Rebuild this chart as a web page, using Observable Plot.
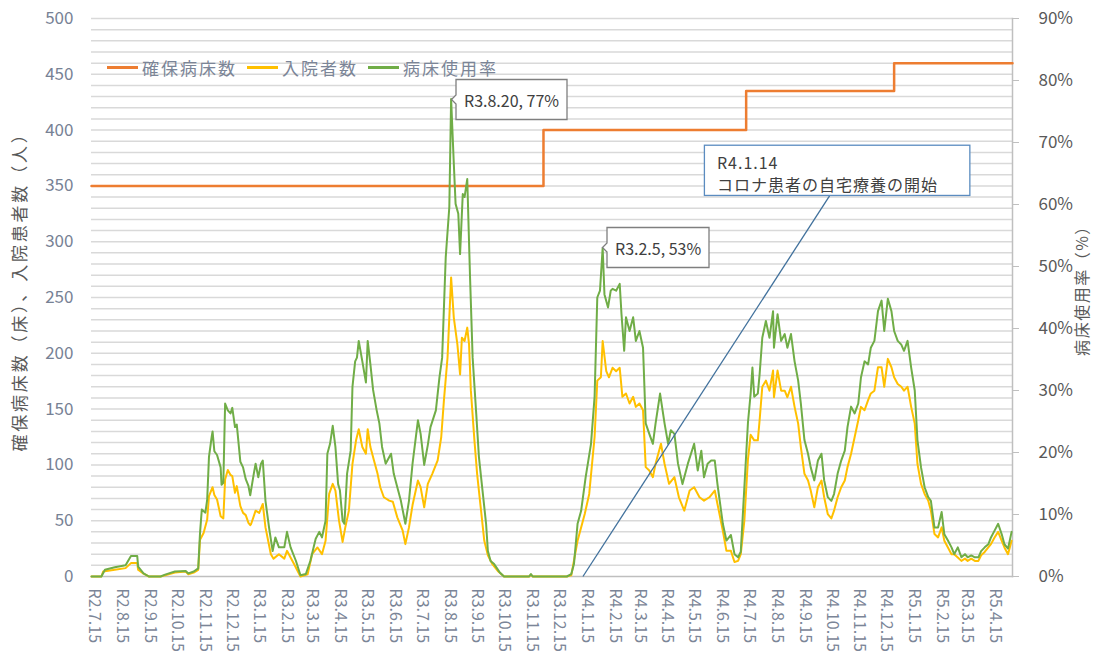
<!DOCTYPE html>
<html><head><meta charset="utf-8">
<script src="https://cdn.jsdelivr.net/npm/d3@7"></script>
<script src="https://cdn.jsdelivr.net/npm/@observablehq/plot@0.6"></script>
<style>
body{margin:0;background:#fff;}
#wrap{position:relative;width:1093px;height:663px;font-family:"Noto Sans CJK JP",sans-serif;}
#legend{position:absolute;left:107px;top:55px;display:flex;align-items:center;gap:10px;font-size:17px;letter-spacing:2px;color:#7b8597;white-space:nowrap;}
#legend .item{display:flex;align-items:center;}
#legend .sw{width:31px;height:3px;margin-right:4px;}
g[aria-label="tip"]{color:#404040;}
</style></head><body><div id="wrap"><div id="legend"></div></div>
<script>
// ---------- data ----------
const seriesNames = ["確保病床数", "入院者数", "病床使用率"];
const seriesColors = ["#ED7D31", "#FFC000", "#70AD47"];
const leftTitle = "確保病床数（床）、入院患者数（人）";
const rightTitle = "病床使用率（%）";

// secured beds (step changes)
const bedSteps = [
  ["2020-07-15", 350], ["2021-12-01", 400], ["2022-07-15", 435], ["2022-12-27", 460], ["2023-05-08", 460]
];

// inpatients (persons)
const inpatients = [
  ["2020-07-15",0],["2020-07-26",0],["2020-07-28",4.5],["2020-08-10",6],["2020-08-22",7.5],["2020-08-28",12],
  ["2020-09-04",12],["2020-09-05",6],["2020-09-11",2.5],["2020-09-17",0],["2020-09-30",0],["2020-10-05",1],
  ["2020-10-16",3.5],["2020-10-28",4.5],["2020-10-31",2],["2020-11-06",3.5],["2020-11-11",6],["2020-11-13",33],
  ["2020-11-17",39],["2020-11-21",51],["2020-11-23",72],["2020-11-27",80],["2020-11-29",73],["2020-12-02",69],
  ["2020-12-06",54],["2020-12-09",52],["2020-12-11",87],["2020-12-14",95.5],["2020-12-17",91],["2020-12-19",90],
  ["2020-12-22",75],["2020-12-24",81],["2020-12-28",63],["2020-12-31",57],["2021-01-03",55],["2021-01-06",48],
  ["2021-01-08",46],["2021-01-09",47],["2021-01-14",59],["2021-01-18",57],["2021-01-22",65],["2021-01-25",44],
  ["2021-01-31",20],["2021-02-03",16],["2021-02-09",20],["2021-02-15",16],["2021-02-18",23],["2021-02-26",11],
  ["2021-03-05",0],["2021-03-13",2],["2021-03-18",20],["2021-03-24",26],["2021-03-29",20],["2021-04-02",32],
  ["2021-04-06",74],["2021-04-10",83],["2021-04-13",77],["2021-04-17",50],["2021-04-21",31],["2021-04-24",44],
  ["2021-04-28",59],["2021-05-02",101],["2021-05-06",122],["2021-05-09",132],["2021-05-13",116],["2021-05-17",110],
  ["2021-05-19",132],["2021-05-22",116],["2021-05-26",104],["2021-05-30",92],["2021-06-02",80],["2021-06-06",71],
  ["2021-06-12",68],["2021-06-16",67],["2021-06-21",53],["2021-06-27",41],["2021-06-30",29],["2021-07-04",44],
  ["2021-07-08",64],["2021-07-14",86],["2021-07-17",80],["2021-07-21",62],["2021-07-25",83],["2021-07-30",92],
  ["2021-08-05",104],["2021-08-09",125],["2021-08-12",158],["2021-08-16",196],["2021-08-20",268],["2021-08-23",232],
  ["2021-08-27",208],["2021-08-30",181],["2021-09-01",214],["2021-09-04",211],["2021-09-07",223],["2021-09-09",208],
  ["2021-09-11",167],["2021-09-15",122],["2021-09-18",92],["2021-09-22",62],["2021-09-26",32],["2021-09-30",19],
  ["2021-10-05",11],["2021-10-11",5],["2021-10-18",0],["2021-11-15",0],["2021-11-17",1.5],["2021-11-19",0],
  ["2021-12-27",0],["2022-01-01",1],["2022-01-08",32],["2022-01-16",56],["2022-01-21",74],["2022-01-27",125],
  ["2022-01-30",175.5],["2022-02-03",178.5],["2022-02-05",211],["2022-02-09",184],["2022-02-12",178.5],["2022-02-16",187],
  ["2022-02-20",184],["2022-02-24",187],["2022-02-27",161],["2022-03-03",164],["2022-03-07",155],["2022-03-11",161],
  ["2022-03-14",152],["2022-03-18",155],["2022-03-22",149],["2022-03-25",98],["2022-03-29",95],["2022-04-02",89],
  ["2022-04-05",101],["2022-04-11",119],["2022-04-15",101],["2022-04-20",83],["2022-04-26",89],["2022-05-01",71],
  ["2022-05-07",59],["2022-05-13",77],["2022-05-18",80],["2022-05-24",71],["2022-05-29",68],["2022-06-04",71],
  ["2022-06-10",77],["2022-06-13",65],["2022-06-19",41],["2022-06-23",23],["2022-06-28",23],["2022-07-02",13],
  ["2022-07-06",14],["2022-07-09",20],["2022-07-13",50],["2022-07-17",105],["2022-07-20",127],["2022-07-24",122],
  ["2022-07-28",122],["2022-07-30",140],["2022-08-02",170],["2022-08-06",175.5],["2022-08-10",166.5],["2022-08-14",184.5],
  ["2022-08-15",160.6],["2022-08-19",184.5],["2022-08-23",166.5],["2022-08-27",166.5],["2022-08-30",160.6],["2022-09-03",170],
  ["2022-09-07",152],["2022-09-11",137],["2022-09-14",116],["2022-09-18",92],["2022-09-22",86],["2022-09-25",77],
  ["2022-09-29",62],["2022-10-03",80],["2022-10-07",86],["2022-10-10",71],["2022-10-14",56],["2022-10-18",52],
  ["2022-10-21",59],["2022-10-25",71],["2022-10-29",80],["2022-11-02",86],["2022-11-05",98],["2022-11-09",110],
  ["2022-11-13",125],["2022-11-17",140],["2022-11-20",152],["2022-11-24",149],["2022-11-28",158],["2022-12-01",164],
  ["2022-12-05",166.5],["2022-12-09",187.5],["2022-12-13",187.5],["2022-12-16",170],["2022-12-20",195],["2022-12-24",187.5],
  ["2022-12-27",178.5],["2022-12-31",172.5],["2023-01-04",170],["2023-01-07",166.5],["2023-01-11",170],["2023-01-15",152],
  ["2023-01-19",137],["2023-01-22",101],["2023-01-26",83],["2023-01-30",74],["2023-02-03",68],["2023-02-06",59],
  ["2023-02-10",38],["2023-02-14",35],["2023-02-18",44],["2023-02-21",32],["2023-02-25",26],["2023-03-01",20],
  ["2023-03-04",20],["2023-03-08",17],["2023-03-12",14],["2023-03-16",16],["2023-03-19",14],["2023-03-23",16],
  ["2023-03-27",14],["2023-03-31",14],["2023-04-03",19],["2023-04-07",22],["2023-04-11",26],["2023-04-14",29],
  ["2023-04-18",35],["2023-04-22",40],["2023-04-26",32],["2023-04-29",26],["2023-05-03",20],["2023-05-07",32]
];

// bed occupancy rate (%), right axis
const occupancyRate = [
  ["2020-07-15",0],["2020-07-26",0],["2020-07-30",1.1],["2020-08-10",1.5],["2020-08-22",1.8],["2020-08-28",3.3],
  ["2020-09-04",3.3],["2020-09-05",1.6],["2020-09-11",0.5],["2020-09-17",0],["2020-09-30",0],["2020-10-05",0.3],
  ["2020-10-16",0.8],["2020-10-28",0.9],["2020-10-31",0.5],["2020-11-06",0.8],["2020-11-11",1.3],["2020-11-13",7.0],
  ["2020-11-15",10.8],["2020-11-19",10.3],["2020-11-21",12.4],["2020-11-23",19.3],["2020-11-26",22.5],["2020-11-27",23.4],
  ["2020-11-29",20.2],["2020-12-02",19.6],["2020-12-06",17.6],["2020-12-07",14.8],["2020-12-09",15.1],["2020-12-11",27.9],
  ["2020-12-14",26.8],["2020-12-17",26.3],["2020-12-19",27.2],["2020-12-22",24.1],["2020-12-24",24.5],["2020-12-28",18.5],
  ["2020-12-31",17.6],["2021-01-03",15.7],["2021-01-06",14.6],["2021-01-08",13.1],["2021-01-12",16.6],["2021-01-14",18.2],
  ["2021-01-17",16.0],["2021-01-20",18.2],["2021-01-22",18.7],["2021-01-25",12.2],["2021-01-29",7.9],["2021-02-02",4.1],
  ["2021-02-05",6.3],["2021-02-09",4.7],["2021-02-15",4.7],["2021-02-18",7.2],["2021-02-22",4.7],["2021-02-28",2.5],
  ["2021-03-05",0.2],["2021-03-11",0.4],["2021-03-16",2.5],["2021-03-22",6.1],["2021-03-26",7.2],["2021-03-29",6.3],
  ["2021-04-02",9.0],["2021-04-04",19.8],["2021-04-07",21.4],["2021-04-10",24.3],["2021-04-13",20.9],["2021-04-16",14.9],
  ["2021-04-18",13.9],["2021-04-21",9.0],["2021-04-23",8.5],["2021-04-26",16.6],["2021-04-30",20.3],["2021-05-02",30.6],
  ["2021-05-05",34.7],["2021-05-07",35.3],["2021-05-09",38.0],["2021-05-13",34.7],["2021-05-17",31.3],["2021-05-19",38.0],
  ["2021-05-22",34.2],["2021-05-25",30.1],["2021-05-29",26.8],["2021-06-01",24.7],["2021-06-04",20.9],["2021-06-08",18.2],
  ["2021-06-14",19.8],["2021-06-17",16.6],["2021-06-21",14.4],["2021-06-25",12.2],["2021-06-30",8.5],["2021-07-04",12.2],
  ["2021-07-08",18.2],["2021-07-14",25.2],["2021-07-17",23.0],["2021-07-21",18.0],["2021-07-25",21.2],["2021-07-28",24.1],
  ["2021-08-03",26.8],["2021-08-07",32.1],["2021-08-10",35.3],["2021-08-14",51.5],["2021-08-18",59.6],["2021-08-20",77.0],
  ["2021-08-23",66.6],["2021-08-25",60.1],["2021-08-28",58.5],["2021-08-30",52.0],["2021-09-02",61.7],["2021-09-04",61.2],
  ["2021-09-07",64.1],["2021-09-10",48.8],["2021-09-13",35.3],["2021-09-17",26.3],["2021-09-20",19.3],["2021-09-24",13.9],
  ["2021-09-28",8.5],["2021-09-30",4.1],["2021-10-03",2.5],["2021-10-07",2.0],["2021-10-13",0.7],["2021-10-18",0],
  ["2021-11-15",0],["2021-11-17",0.4],["2021-11-19",0],["2021-12-27",0],["2022-01-01",0.4],["2022-01-04",2.0],
  ["2022-01-08",8.5],["2022-01-12",10.6],["2022-01-17",16.0],["2022-01-23",21.4],["2022-01-27",29.0],["2022-01-30",45.0],
  ["2022-02-02",46.1],["2022-02-05",53.0],["2022-02-07",45.5],["2022-02-11",43.4],["2022-02-14",46.1],["2022-02-16",46.4],
  ["2022-02-20",46.1],["2022-02-24",47.2],["2022-02-26",42.3],["2022-03-01",36.4],["2022-03-03",41.8],["2022-03-07",39.6],
  ["2022-03-11",41.8],["2022-03-14",38.0],["2022-03-18",39.6],["2022-03-22",36.9],["2022-03-25",24.7],["2022-03-29",23.0],
  ["2022-04-02",21.4],["2022-04-05",24.7],["2022-04-10",29.5],["2022-04-15",24.7],["2022-04-19",21.4],["2022-04-22",23.6],
  ["2022-04-26",23.0],["2022-04-30",18.2],["2022-05-05",14.9],["2022-05-11",18.2],["2022-05-18",21.4],["2022-05-22",17.1],
  ["2022-05-26",20.3],["2022-05-29",16.0],["2022-06-02",18.2],["2022-06-06",18.7],["2022-06-10",18.7],["2022-06-13",14.9],
  ["2022-06-19",8.5],["2022-06-23",5.8],["2022-06-28",6.7],["2022-07-02",3.6],["2022-07-06",3.1],["2022-07-09",4.0],
  ["2022-07-13",14.4],["2022-07-17",24.8],["2022-07-20",29.5],["2022-07-22",33.7],["2022-07-24",29.0],["2022-07-28",29.5],
  ["2022-07-30",32.6],["2022-08-02",38.5],["2022-08-06",41.2],["2022-08-10",38.5],["2022-08-14",42.8],["2022-08-15",36.9],
  ["2022-08-19",42.3],["2022-08-23",38.0],["2022-08-27",39.1],["2022-08-30",36.9],["2022-09-03",39.1],["2022-09-07",34.7],
  ["2022-09-11",31.6],["2022-09-14",27.9],["2022-09-18",22.0],["2022-09-22",19.8],["2022-09-25",17.6],["2022-09-29",15.5],
  ["2022-10-03",18.7],["2022-10-07",19.8],["2022-10-10",15.5],["2022-10-14",12.8],["2022-10-18",12.2],["2022-10-21",13.3],
  ["2022-10-25",16.6],["2022-10-29",18.7],["2022-11-02",20.3],["2022-11-05",24.1],["2022-11-09",27.4],["2022-11-13",26.3],
  ["2022-11-17",27.9],["2022-11-20",32.1],["2022-11-24",34.7],["2022-11-28",34.2],["2022-12-01",36.9],["2022-12-05",38.0],
  ["2022-12-09",42.8],["2022-12-13",44.5],["2022-12-16",39.6],["2022-12-20",44.8],["2022-12-24",42.8],["2022-12-27",39.6],
  ["2022-12-31",38.0],["2023-01-04",37.4],["2023-01-07",36.4],["2023-01-11",38.0],["2023-01-15",33.7],["2023-01-19",30.0],
  ["2023-01-22",22.0],["2023-01-26",17.6],["2023-01-30",14.4],["2023-02-03",12.8],["2023-02-06",12.2],["2023-02-10",7.9],
  ["2023-02-14",7.9],["2023-02-18",10.4],["2023-02-21",6.8],["2023-02-25",5.8],["2023-03-01",4.7],["2023-03-04",3.6],
  ["2023-03-08",4.7],["2023-03-12",3.1],["2023-03-16",3.6],["2023-03-19",3.1],["2023-03-23",3.4],["2023-03-27",3.1],
  ["2023-03-31",3.1],["2023-04-03",4.1],["2023-04-07",4.7],["2023-04-11",5.2],["2023-04-14",6.3],["2023-04-18",7.4],
  ["2023-04-22",8.5],["2023-04-26",6.8],["2023-04-29",5.2],["2023-05-03",4.5],["2023-05-07",7.2]
];

const xTickLabels = [
  "R2.7.15","R2.8.15","R2.9.15","R2.10.15","R2.11.15","R2.12.15",
  "R3.1.15","R3.2.15","R3.3.15","R3.4.15","R3.5.15","R3.6.15","R3.7.15","R3.8.15","R3.9.15","R3.10.15","R3.11.15","R3.12.15",
  "R4.1.15","R4.2.15","R4.3.15","R4.4.15","R4.5.15","R4.6.15","R4.7.15","R4.8.15","R4.9.15","R4.10.15","R4.11.15","R4.12.15",
  "R5.1.15","R5.2.15","R5.3.15","R5.4.15"
];
const leftTicks = [0, 50, 100, 150, 200, 250, 300, 350, 400, 450, 500];
const rightTicks = [0, 10, 20, 30, 40, 50, 60, 70, 80, 90];

// callouts on the occupancy-rate line
const calloutDates = ["2021-08-20", "2022-02-05"];
const calloutRates = [77, 53];
const calloutLabels = ["R3.8.20, 77%", "R3.2.5, 53%"];

// note box
const noteText = "R4.1.14\nコロナ患者の自宅療養の開始";
const noteTarget = ["2022-01-14", 0];
const noteBox = {x1: "2022-05-30", x2: "2023-03-22", y1: 341, y2: 386};
const noteLeader = ["2022-10-16", 341];

const xDomain = ["2020-07-15", "2023-05-08"];

// ---------- build ----------
const parse = d3.utcParse("%Y-%m-%d");
const RATE_TO_Y = 500 / 90; // right axis 0-90% maps onto left 0-500
const beds = bedSteps.map(([d, v]) => ({date: parse(d), value: v}));
const inp = inpatients.map(([d, v]) => ({date: parse(d), value: v}));
const rate = occupancyRate.map(([d, v]) => ({date: parse(d), value: v * RATE_TO_Y}));
const tickDates = xTickLabels.map(l => {
  const [y, m, d] = l.slice(1).split(".").map(Number);
  return new Date(Date.UTC(2018 + y, m - 1, d));
});
const labelByTime = new Map(tickDates.map((d, i) => [+d, xTickLabels[i]]));
const callouts = calloutDates.map((d, i) => ({date: parse(d), y: calloutRates[i] * RATE_TO_Y, label: calloutLabels[i]}));
const font = "'Noto Sans CJK JP', sans-serif";

const chart = Plot.plot({
  width: 1093, height: 663,
  marginLeft: 91, marginRight: 81, marginTop: 18, marginBottom: 87,
  style: {fontFamily: font, background: "#fff", overflow: "visible"},
  x: {type: "utc", domain: xDomain.map(parse)},
  y: {domain: [0, 500]},
  marks: [
    Plot.gridY(d3.range(10, 501, 10), {stroke: "#d9d9d9", strokeOpacity: 1, strokeWidth: 1.5}),
    Plot.frame({anchor: "bottom", stroke: "#bfbfbf", strokeWidth: 1.5}),
    Plot.frame({anchor: "right", stroke: "#bfbfbf", strokeWidth: 1.5}),
    Plot.axisY(leftTicks, {anchor: "left", tickSize: 0, tickPadding: 18, fontSize: 17, fill: "#778295", label: null}),
    Plot.axisY(rightTicks.map(p => p * RATE_TO_Y), {anchor: "right", tickSize: 6, tickPadding: 20, stroke: "#bfbfbf",
      fill: "#595959", fontSize: 17, tickFormat: v => Math.round(v / RATE_TO_Y) + "%", label: null}),
    Plot.axisX(tickDates, {anchor: "bottom", tickSize: 0, tickPadding: 12, tickRotate: 90, dx: 3,
      tickFormat: d => labelByTime.get(+d), fontSize: 16, fill: "#7b8597", label: null}),
    Plot.text([leftTitle], {frameAnchor: "left", textAnchor: "middle", rotate: -90, dx: -71, dy: -10, fontSize: 17, fill: "#595959"}),
    Plot.text([rightTitle], {frameAnchor: "right", textAnchor: "middle", rotate: -90, dx: 70, dy: -11, fontSize: 16, fill: "#595959"}),
    Plot.line(beds, {x: "date", y: "value", curve: "step-after", stroke: seriesColors[0], strokeWidth: 2.5}),
    Plot.line(inp, {x: "date", y: "value", stroke: seriesColors[1], strokeWidth: 2}),
    Plot.line(rate, {x: "date", y: "value", stroke: seriesColors[2], strokeWidth: 2}),
    Plot.link([0], {x1: () => parse(noteTarget[0]), y1: () => noteTarget[1], x2: () => parse(noteLeader[0]), y2: () => noteLeader[1],
      stroke: "#41719c", strokeWidth: 1.3}),
    Plot.rect([noteBox], {x1: d => parse(d.x1), x2: d => parse(d.x2), y1: "y1", y2: "y2", fill: "white", stroke: "#5b8cc0", strokeWidth: 1.3}),
    Plot.text([noteBox], {x: d => parse(d.x1), y: "y2", text: () => noteText, textAnchor: "start", lineAnchor: "top",
      dx: 12, dy: 7, fontSize: 16, lineHeight: 1.4, fill: "#404040"}),
    Plot.tip(callouts, {x: "date", y: "y", title: "label", anchor: "left", fontSize: 16, fontFamily: font,
      fill: "white", stroke: "#7f7f7f", strokeWidth: 1.3, pathFilter: "none", pointerSize: 9, textPadding: 8})
  ]
});

d3.select(chart).selectAll("text").each(function() {
  const t = this.textContent;
  if (t === leftTitle) this.setAttribute("letter-spacing", "2.8");
  else if (t === rightTitle) this.setAttribute("letter-spacing", "1.5");
  else if (t.includes("コロナ")) this.setAttribute("letter-spacing", "1");
});

const wrap = document.getElementById("wrap");
wrap.insertBefore(chart, wrap.firstChild);

const legend = document.getElementById("legend");
seriesNames.forEach((n, i) => {
  const item = document.createElement("div");
  item.className = "item";
  item.innerHTML = `<span class="sw" style="background:${seriesColors[i]}"></span><span>${n}</span>`;
  legend.appendChild(item);
});
</script></body></html>
